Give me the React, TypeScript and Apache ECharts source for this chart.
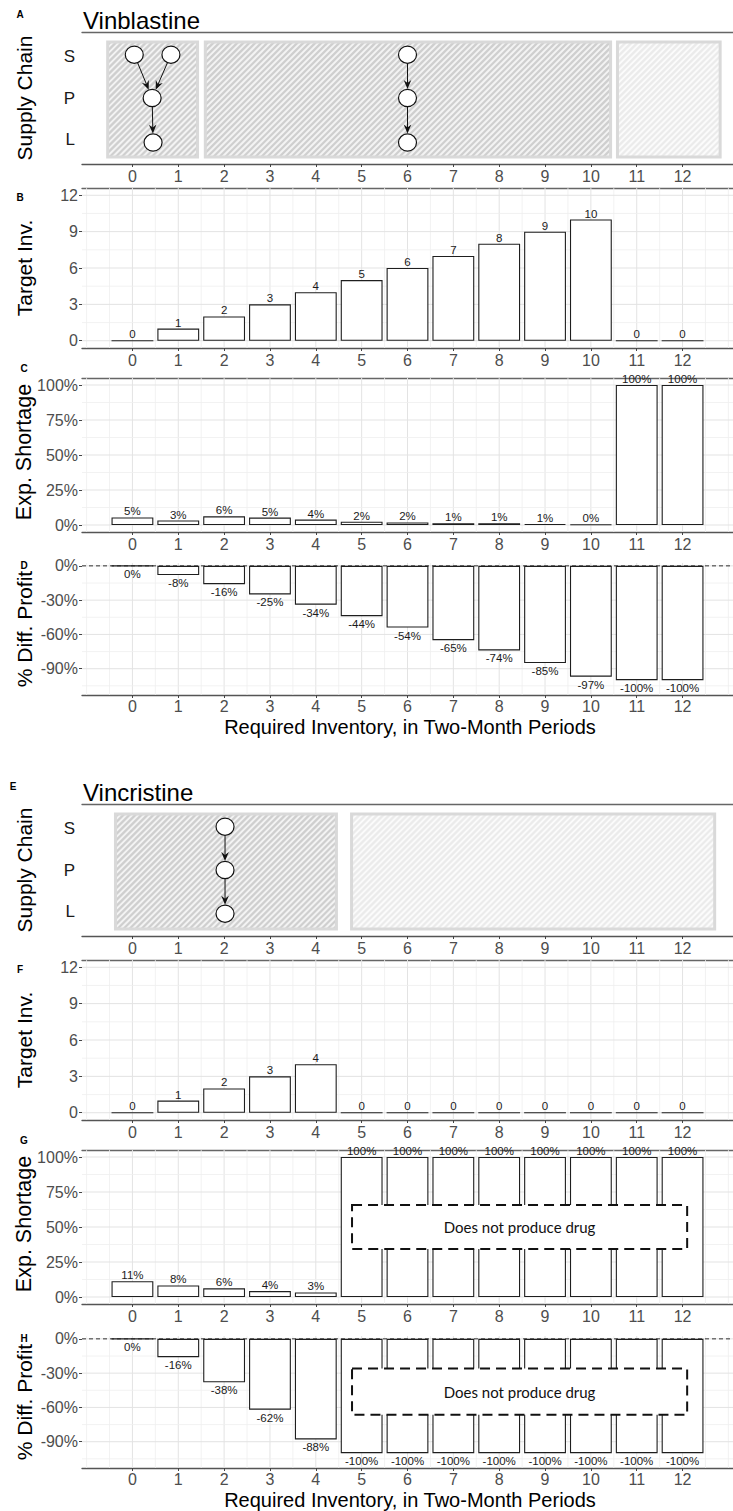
import React, { useEffect, useRef } from "react";
import * as echarts from "echarts";

// ---------------- data ----------------
const CATEGORIES = [0, 1, 2, 3, 4, 5, 6, 7, 8, 9, 10, 11, 12];

const vinblastineTarget = [0, 1, 2, 3, 4, 5, 6, 7, 8, 9, 10, 0, 0];
const vinblastineShortage = [5.4, 3.2, 6.2, 5.3, 3.9, 2.4, 1.8, 1.3, 1.2, 0.7, 0.4, 100, 100];
const vinblastineProfit = [0, -8, -16, -25, -34, -44, -54, -65, -74, -85, -97, -100, -100];

const vincristineTarget = [0, 1, 2, 3, 4, 0, 0, 0, 0, 0, 0, 0, 0];
const vincristineShortage = [11.3, 8.3, 6.2, 4.2, 3.3, 100, 100, 100, 100, 100, 100, 100, 100];
const vincristineProfit = [0, -16, -38, -62, -88, -100, -100, -100, -100, -100, -100, -100, -100];

const SUPPLY_LEVELS = ["L", "P", "S"];
const SUPPLY_TICKS = [0, 1, 2];
const TARGET_TICKS = [0, 3, 6, 9, 12];
const SHORTAGE_TICKS = [0, 25, 50, 75, 100];
const PROFIT_TICKS = [0, -30, -60, -90];
const X_MINOR = [-1, -0.5, 0.5, 1.5, 2.5, 3.5, 4.5, 5.5, 6.5, 7.5, 8.5, 9.5, 10.5, 11.5, 12.5, 13];

// supply-chain diagrams: boxes [fromX, toX, darkHatch], nodes [x, level], edges [fromNode, toNode]
const vinblastineBoxes = [[-0.54, 1.42, 1], [1.59, 10.43, 1], [10.58, 12.82, 0]];
const vinblastineNodes = [[0.04, 2.05], [0.84, 2.05], [0.43, 1.0], [0.45, -0.08], [6.0, 2.05], [6.0, 1.0], [6.0, -0.08]];
const vinblastineEdges = [[0, 2], [1, 2], [2, 3], [4, 5], [5, 6]];

const vincristineBoxes = [[-0.37, 4.45, 1], [4.78, 12.7, 0]];
const vincristineNodes = [[2.02, 2.05], [2.02, 1.0], [2.02, -0.06]];
const vincristineEdges = [[0, 1], [1, 2]];

const BOX_LEVELS = [-0.43, 2.36];
const NO_DRUG_X = [4.79, 12.1];
const NO_DRUG_SHORTAGE = [34.3, 65.7];
const NO_DRUG_PROFIT = [-66.4, -26];
const NO_DRUG_TEXT = "Does not produce drug";

// ---------------- layout ----------------
const FONT = "'Liberation Sans', Arial, Helvetica, sans-serif";
const X_MIN = -1.1;
const X_MAX = 13.1;
const GRID_LEFT = 82;
const GRID_WIDTH = 660;
const UNIT = GRID_WIDTH / (X_MAX - X_MIN);

function minorOf(ticks: number[], min: number, max: number) {
  const s = [...ticks].sort((a, b) => a - b);
  const step = s[1] - s[0];
  const out: number[] = [];
  for (let i = 0; i < s.length - 1; i++) out.push((s[i] + s[i + 1]) / 2);
  const lo = s[0] - step / 2;
  const hi = s[s.length - 1] + step / 2;
  if (lo > min) out.push(lo);
  if (hi < max) out.push(hi);
  return out;
}

function buildOption() {
  const grid: any[] = [];
  const xAxis: any[] = [];
  const yAxis: any[] = [];
  const series: any[] = [];
  const graphic: any[] = [];

  function addGrid(top: number, height: number, ymin: number, ymax: number, yTicks: number[], yFmt: (v: number) => string, opts: any) {
    const g = grid.length;
    grid.push({ left: GRID_LEFT, top, width: GRID_WIDTH, height });
    const xi = xAxis.length;
    xAxis.push({
      type: "value", gridIndex: g, min: X_MIN, max: X_MAX, position: "bottom",
      axisLine: { show: true, onZero: false, lineStyle: { color: "#555", width: 1.3 } },
      axisTick: { show: true, customValues: CATEGORIES, length: 3, lineStyle: { color: "#444" } },
      axisLabel: { show: true, customValues: CATEGORIES, margin: opts.xMargin ?? 4, color: "#4d4d4d", fontSize: 16, fontFamily: FONT },
      splitLine: { show: false },
    });
    if (opts.topLine) {
      xAxis.push({
        type: "value", gridIndex: g, min: X_MIN, max: X_MAX, position: "top",
        axisLine: { show: true, onZero: false, lineStyle: { color: "#666", width: 1.3 } },
        axisTick: { show: false }, axisLabel: { show: false }, splitLine: { show: false },
      });
    }
    const yi = yAxis.length;
    yAxis.push({
      type: "value", gridIndex: g, min: ymin, max: ymax,
      axisLine: { show: false, onZero: false },
      axisTick: { show: opts.yTick !== false, customValues: yTicks, length: 3, lineStyle: { color: "#444" } },
      axisLabel: {
        customValues: yTicks, formatter: yFmt, margin: opts.yMargin ?? 4,
        color: opts.yColor || "#4d4d4d", fontSize: opts.yFont || 16, fontFamily: FONT,
      },
      splitLine: { show: false },
    });
    return { xi, yi };
  }

  function gridLines(xi: number, yi: number, yMajor: number[], yMinor: number[], zeroDash: boolean) {
    const data: number[][] = [];
    X_MINOR.forEach((v) => data.push([0, v, 0]));
    CATEGORIES.forEach((v) => data.push([0, v, 1]));
    yMinor.forEach((v) => data.push([1, v, 0]));
    yMajor.forEach((v) => data.push([1, v, 1]));
    if (zeroDash) data.push([2, 0, 1]);
    series.push({
      type: "custom", xAxisIndex: xi, yAxisIndex: yi, z: 1, silent: true, data,
      renderItem: (params: any, api: any) => {
        const cs = params.coordSys;
        const kind = api.value(0);
        const v = api.value(1);
        const major = api.value(2);
        if (kind === 0) {
          const x = api.coord([v, 0])[0];
          return { type: "line", shape: { x1: x, y1: cs.y, x2: x, y2: cs.y + cs.height },
            style: { stroke: major ? "#e3e3e3" : "#efefef", lineWidth: major ? 1 : 0.8 } };
        }
        const y = api.coord([0, v])[1];
        if (kind === 2) {
          return { type: "line", shape: { x1: cs.x, y1: y, x2: cs.x + cs.width, y2: y },
            style: { stroke: "#333", lineWidth: 1, lineDash: [4, 3] } };
        }
        return { type: "line", shape: { x1: cs.x, y1: y, x2: cs.x + cs.width, y2: y },
          style: { stroke: major ? "#e3e3e3" : "#efefef", lineWidth: major ? 1 : 0.8 } };
      },
    });
  }

  function bars(xi: number, yi: number, values: number[], pos: string, fmt: (v: number) => string) {
    series.push({
      type: "bar", xAxisIndex: xi, yAxisIndex: yi, z: 2, silent: true,
      barWidth: 0.9 * UNIT,
      data: CATEGORIES.map((c, i) => [c, values[i]]),
      itemStyle: { color: "#ffffff", borderColor: "#1e1e1e", borderWidth: 1.1 },
      label: {
        show: true, position: pos, distance: pos === "top" ? 0 : 2,
        formatter: (p: any) => fmt(p.value[1]),
        fontSize: 11.5, fontFamily: FONT, color: "#1a1a1a",
      },
    });
  }

  function noDrugBox(xi: number, yi: number, ys: number[]) {
    series.push({
      type: "custom", xAxisIndex: xi, yAxisIndex: yi, z: 4, silent: true,
      data: [[NO_DRUG_X[0], NO_DRUG_X[1], ys[0], ys[1]]],
      renderItem: (params: any, api: any) => {
        const p0 = api.coord([api.value(0), api.value(3)]);
        const p1 = api.coord([api.value(1), api.value(2)]);
        return {
          type: "group",
          children: [
            { type: "rect", shape: { x: p0[0], y: p0[1], width: p1[0] - p0[0], height: p1[1] - p0[1] },
              style: { fill: "#ffffff", stroke: "#111", lineWidth: 2, lineDash: [10, 6] } },
            { type: "text", x: (p0[0] + p1[0]) / 2, y: (p0[1] + p1[1]) / 2,
              style: { text: NO_DRUG_TEXT, fill: "#111", fontSize: 15, fontFamily: "Lato, 'Open Sans', sans-serif", align: "center", verticalAlign: "middle" } },
          ],
        };
      },
    });
  }

  function supplyChain(xi: number, yi: number, boxes: number[][], nodes: number[][], edges: number[][]) {
    series.push({
      type: "custom", xAxisIndex: xi, yAxisIndex: yi, z: 2, silent: true,
      data: boxes,
      renderItem: (params: any, api: any) => {
        const dark = api.value(2);
        const p0 = api.coord([api.value(0), BOX_LEVELS[1]]);
        const p1 = api.coord([api.value(1), BOX_LEVELS[0]]);
        const rx = p0[0], ry = p0[1], w = p1[0] - p0[0], h = p1[1] - p0[1];
        const children: any[] = [
          { type: "rect", shape: { x: rx, y: ry, width: w, height: h }, style: { fill: dark ? "#f3f3f3" : "#fbfbfb" } },
        ];
        const stroke = dark ? "#cfcfcf" : "#ebebeb";
        for (let c = rx + ry + 3; c < rx + w + ry + h; c += 6) {
          const xa = Math.max(rx, c - (ry + h));
          const xb = Math.min(rx + w, c - ry);
          if (xb > xa) {
            children.push({ type: "line", shape: { x1: xa, y1: c - xa, x2: xb, y2: c - xb }, style: { stroke, lineWidth: 2.2 } });
          }
        }
        children.push({ type: "rect", shape: { x: rx, y: ry, width: w, height: h }, style: { fill: "none", stroke: "#d9d9d9", lineWidth: 3 } });
        return { type: "group", children };
      },
    });
    series.push({
      type: "custom", xAxisIndex: xi, yAxisIndex: yi, z: 3, silent: true,
      data: edges.map((e) => [nodes[e[0]][0], nodes[e[0]][1], nodes[e[1]][0], nodes[e[1]][1]]),
      renderItem: (params: any, api: any) => {
        const a = api.coord([api.value(0), api.value(1)]);
        const b = api.coord([api.value(2), api.value(3)]);
        const dx = b[0] - a[0], dy = b[1] - a[1];
        const len = Math.hypot(dx, dy);
        const ux = dx / len, uy = dy / len;
        const nx = -uy, ny = ux;
        const R = 9;
        const sx = a[0] + ux * R, sy = a[1] + uy * R;
        const ex = b[0] - ux * R, ey = b[1] - uy * R;
        const hl = 9, hw = 3.8;
        const bx = ex - ux * hl, by = ey - uy * hl;
        return {
          type: "group",
          children: [
            { type: "line", shape: { x1: sx, y1: sy, x2: ex - ux * 4, y2: ey - uy * 4 }, style: { stroke: "#111", lineWidth: 1 } },
            { type: "polygon", shape: { points: [[ex, ey], [bx + nx * hw, by + ny * hw], [ex - ux * 6, ey - uy * 6], [bx - nx * hw, by - ny * hw]] },
              style: { fill: "#111" } },
          ],
        };
      },
    });
    series.push({
      type: "custom", xAxisIndex: xi, yAxisIndex: yi, z: 4, silent: true,
      data: nodes,
      renderItem: (params: any, api: any) => {
        const p = api.coord([api.value(0), api.value(1)]);
        return { type: "ellipse", shape: { cx: p[0], cy: p[1], rx: 9, ry: 8.6 }, style: { fill: "#fff", stroke: "#111", lineWidth: 1.2 } };
      },
    });
  }

  function text(x: number, y: number, str: string, size: number, opts: any = {}) {
    graphic.push({
      type: "text", x, y, rotation: opts.rotation || 0, silent: true, z: 20,
      style: {
        text: str, fill: opts.color || "#000", fontSize: size, fontFamily: FONT,
        fontWeight: opts.bold ? "bold" : "normal",
        align: opts.align || "center", verticalAlign: "middle",
      },
    });
  }

  function section(o: number, dShift: number, cfg: any) {
    // title + letters
    text(83, 20 + o, cfg.title, 24, { align: "left" });
    text(cfg.letterX[0], 14 + o, cfg.letters[0], 10, { bold: true });
    text(20, 197 + o, cfg.letters[1], 10, { bold: true });
    text(24, 368 + o, cfg.letters[2], 10, { bold: true });
    text(24, 565 + o + dShift, cfg.letters[3], 10, { bold: true });

    // A: supply chain
    const a = addGrid(32 + o, 132, -0.6, 2.6, SUPPLY_TICKS, (v: number) => SUPPLY_LEVELS[Math.round(v)],
      { topLine: true, yTick: false, yColor: "#1a1a1a", yFont: 17, yMargin: 7 });
    supplyChain(a.xi, a.yi, cfg.boxes, cfg.nodes, cfg.edges);
    text(24, 98 + o, "Supply Chain", 21, { rotation: Math.PI / 2 });

    // B: target inventory
    const b = addGrid(188 + o, 160, -0.6, 12.6, TARGET_TICKS, (v: number) => String(v), { topLine: true });
    gridLines(b.xi, b.yi, TARGET_TICKS, minorOf(TARGET_TICKS, -0.6, 12.6), false);
    bars(b.xi, b.yi, cfg.target, "top", (v) => String(Math.round(v)));
    text(24, 268 + o, "Target Inv.", 21, { rotation: Math.PI / 2 });

    // C: expected shortage
    const c = addGrid(378 + o, 154, -5, 105, SHORTAGE_TICKS, (v: number) => v + "%", { topLine: true });
    gridLines(c.xi, c.yi, SHORTAGE_TICKS, minorOf(SHORTAGE_TICKS, -5, 105), false);
    bars(c.xi, c.yi, cfg.shortage, "top", (v) => Math.round(v) + "%");
    if (cfg.noDrug) noDrugBox(c.xi, c.yi, NO_DRUG_SHORTAGE);
    text(24, 452 + o, "Exp. Shortage", 21.5, { rotation: Math.PI / 2 });

    // D: % diff profit
    const d = addGrid(563 + o + dShift, 132, -113, 2.5, PROFIT_TICKS, (v: number) => v + "%", { topLine: false, xMargin: 3 });
    gridLines(d.xi, d.yi, PROFIT_TICKS, minorOf(PROFIT_TICKS, -113, 2.5), true);
    bars(d.xi, d.yi, cfg.profit, "bottom", (v) => Math.round(v) + "%");
    if (cfg.noDrug) noDrugBox(d.xi, d.yi, NO_DRUG_PROFIT);
    text(24, 629 + o + dShift, "% Diff. Profit", 21, { rotation: Math.PI / 2 });

    text(410, 727 + o + dShift, "Required Inventory, in Two-Month Periods", 20);
  }

  section(0, 0, {
    title: "Vinblastine", letters: ["A", "B", "C", "D"], letterX: [20],
    boxes: vinblastineBoxes, nodes: vinblastineNodes, edges: vinblastineEdges,
    target: vinblastineTarget, shortage: vinblastineShortage, profit: vinblastineProfit, noDrug: false,
  });
  section(772, 1, {
    title: "Vincristine", letters: ["E", "F", "G", "H"], letterX: [13],
    boxes: vincristineBoxes, nodes: vincristineNodes, edges: vincristineEdges,
    target: vincristineTarget, shortage: vincristineShortage, profit: vincristineProfit, noDrug: true,
  });

  return { animation: false, backgroundColor: "#ffffff", grid, xAxis, yAxis, series, graphic: { elements: graphic } };
}

export default function App() {
  const ref = useRef<HTMLDivElement>(null);
  useEffect(() => {
    document.body.style.margin = "0";
    const chart = echarts.init(ref.current as HTMLDivElement, null, { renderer: "svg" });
    chart.setOption(buildOption() as any);
    return () => chart.dispose();
  }, []);
  return <div ref={ref} style={{ width: 733, height: 1511 }} />;
}
